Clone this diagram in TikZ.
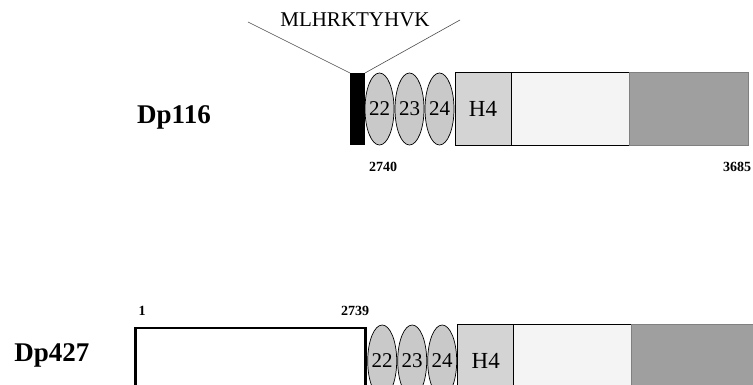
\documentclass[tikz,border=0pt]{standalone}
\usepackage{fontspec}
\setmainfont{Liberation Serif}
\usetikzlibrary{positioning,shapes.geometric}

\begin{document}
\begin{tikzpicture}[
                    x=1pt,
                    y=-1pt,
                    inner sep=0pt,
                    outer sep=0pt,
                    node distance=0pt
                ]
                \tikzstyle{spectrin}=[ellipse,draw=black,fill=gray!42,line width=0.7pt,inner xsep=-3pt,minimum width=29pt,minimum height=72pt,font=\fontsize{21}{21}\selectfont]
                \tikzstyle{block}=[rectangle,draw=black,line width=0.8pt,minimum height=73pt,font=\fontsize{23}{23}\selectfont]
                \tikzstyle{residue}=[font=\bfseries\fontsize{14}{14}\selectfont]
                \tikzstyle{isoform}=[font=\bfseries\fontsize{27}{27}\selectfont]

                \useasboundingbox (0,0) rectangle (753,385);
                \clip (0,0) rectangle (753,385);

                % Dp116
                \node[isoform] (dp116) at (174,117) {Dp116};
                \node[rectangle,fill=black,minimum width=15pt,minimum height=72pt] (exon) at (357.5,109) {};
                \node[spectrin,right=0pt of exon] (s22) {22};
                \node[spectrin,right=1pt of s22]  (s23) {23};
                \node[spectrin,right=1pt of s23]  (s24) {24};
                \node[block,fill=gray!34,minimum width=56pt,right=1pt of s24] (h4) {H4};
                \node[block,fill=gray!9,minimum width=118pt,right=0pt of h4]  (cr) {};
                \node[block,fill=gray!75,draw=gray,minimum width=119pt,right=0pt of cr] (ct) {};

                \node[residue] (r2740) at (383,167) {2740};
                \node[residue] (r3685) at (737,167) {3685};

                \node[font=\fontsize{21}{21}\selectfont] (pep) at (355,20) {MLHRKTYHVK};
                \coordinate (pepL) at (248,22);
                \coordinate (pepR) at (460,20);
                \draw[line width=0.6pt,gray!60!black] (pepL) -- (exon.north west);
                \draw[line width=0.6pt,gray!60!black] (pepR) -- (exon.north east);

                % Dp427
                \node[isoform] (dp427) at (52,355) {Dp427};
                \node[block,line width=2.6pt,fill=white,minimum width=230.4pt,minimum height=66pt] (nterm) at (250.5,361) {};
                \node[spectrin,right=2pt of nterm] (t22) {22};
                \node[spectrin,right=1pt of t22]   (t23) {23};
                \node[spectrin,right=1pt of t23]   (t24) {24};
                \node[block,fill=gray!34,minimum width=56pt,right=1pt of t24] (th4) {H4};
                \node[block,fill=gray!9,minimum width=118pt,right=0pt of th4] (tcr) {};
                \node[block,fill=gray!75,draw=gray,minimum width=125pt,right=0pt of tcr] (tct) {};

                \node[residue] (r1)    at (142,311) {1};
                \node[residue] (r2739) at (355,311) {2739};
            \end{tikzpicture}
\end{document}
